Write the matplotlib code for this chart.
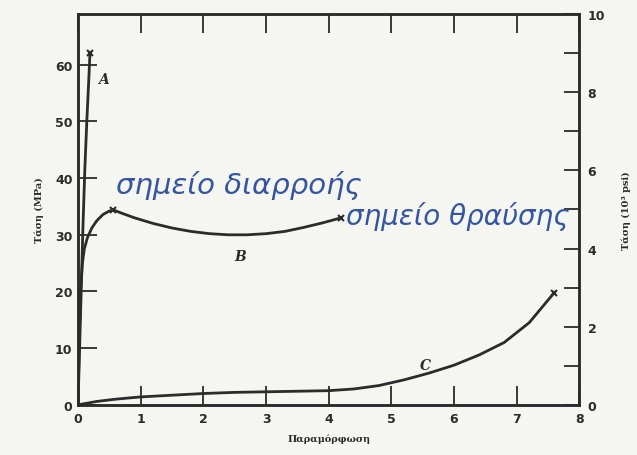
import matplotlib
matplotlib.use("Agg")
import matplotlib.pyplot as plt
from matplotlib.ticker import MultipleLocator

# Curve A (brittle)
strain_a = [0, 0.02, 0.05, 0.08, 0.11, 0.14, 0.17, 0.19]
stress_a = [0, 8, 20, 32, 42, 50, 57, 62]
# Curve B (plastic)
strain_b = [0, 0.02, 0.04, 0.07, 0.1, 0.15, 0.22, 0.3, 0.4, 0.5, 0.56, 0.7, 0.9,
            1.2, 1.5, 1.8, 2.1, 2.4, 2.7, 3.0, 3.3, 3.6, 3.9, 4.2]
stress_b = [0, 12, 20, 25, 27.5, 29.5, 31.2, 32.5, 33.6, 34.2, 34.4, 33.8, 33.0,
            32.0, 31.2, 30.6, 30.2, 30.0, 30.0, 30.2, 30.6, 31.3, 32.1, 33.0]
# Curve C (elastomer)
strain_c = [0, 0.3, 0.6, 1, 1.5, 2, 2.5, 3, 3.5, 4, 4.4, 4.8, 5.2, 5.6, 6.0, 6.4, 6.8, 7.2, 7.6]
stress_c = [0, 0.6, 1.0, 1.4, 1.7, 2.0, 2.2, 2.3, 2.4, 2.5, 2.8, 3.4, 4.4, 5.6, 7.0, 8.8, 11.0, 14.5, 19.8]

x_ticks = [0, 1, 2, 3, 4, 5, 6, 7, 8]
y_ticks_mpa = [0, 10, 20, 30, 40, 50, 60]
y_ticks_psi = [0, 2, 4, 6, 8, 10]

ink = "#2b2b2b"
bg = "#f5f5f1"
pen = "#34559f"

fig = plt.figure(figsize=(6.37, 4.56), dpi=100, facecolor=bg)
ax = fig.add_axes([0.1225, 0.11, 0.787, 0.857], facecolor=bg)

ax.plot(strain_a, stress_a, color=ink, lw=2.0)
ax.plot(strain_b, stress_b, color=ink, lw=2.0)
ax.plot(strain_c, stress_c, color=ink, lw=2.0)
ax.plot([strain_a[-1]], [stress_a[-1]], marker="x", color=ink, ms=4, mew=1.5)
ax.plot([strain_b[10]], [stress_b[10]], marker="x", color=ink, ms=4, mew=1.5)
ax.plot([strain_b[-1]], [stress_b[-1]], marker="x", color=ink, ms=4, mew=1.5)
ax.plot([strain_c[-1]], [stress_c[-1]], marker="x", color=ink, ms=4, mew=1.5)

ax.text(0.32, 57.5, "A", fontsize=10, style="italic", weight="bold", family="DejaVu Serif", color=ink, va="center")
ax.text(2.5, 26.3, "B", fontsize=10, style="italic", weight="bold", family="DejaVu Serif", color=ink, va="center")
ax.text(5.45, 7.0, "C", fontsize=10, style="italic", weight="bold", family="DejaVu Serif", color=ink, va="center")

ax.text(0.6, 38.8, "σημείο διαρροής", fontsize=21, style="italic", weight="light",
        color=pen, va="center", clip_on=False)
ax.text(4.27, 33.4, "σημείο θραύσης", fontsize=20, style="italic", weight="light",
        color=pen, va="center", clip_on=False)

ymax = 68.95
ax.set_xlim(0, 8)
ax.set_ylim(0, ymax)
ax.set_xticks(x_ticks)
ax.set_yticks(y_ticks_mpa)
ax.tick_params(axis="x", direction="in", length=14, width=1.3, colors=ink, labelsize=9,
               top=True, pad=5)
ax.tick_params(axis="y", direction="in", length=14, width=1.3, colors=ink, labelsize=9, pad=4)
for lab in ax.get_xticklabels() + ax.get_yticklabels():
    lab.set_fontweight("bold")
for s in ax.spines.values():
    s.set_color(ink)
    s.set_linewidth(1.8)

ax2 = ax.twinx()
ax2.set_ylim(0, 10)
ax2.set_yticks(y_ticks_psi)
ax2.yaxis.set_minor_locator(MultipleLocator(1))
ax2.tick_params(axis="y", which="both", direction="in", length=11, width=1.3, colors=ink, labelsize=9, pad=6)
for lab in ax2.get_yticklabels():
    lab.set_fontweight("bold")
for s in ax2.spines.values():
    s.set_color(ink)
    s.set_linewidth(1.8)
ax2.set_zorder(ax.get_zorder() - 1)
ax.patch.set_visible(False)
ax2.patch.set_facecolor(bg)

ax.set_ylabel("Τάση (MPa)", fontsize=7, weight="bold", family="DejaVu Serif", color=ink, labelpad=8)
ax2.set_ylabel("Τάση (10³ psi)", fontsize=7, weight="bold", family="DejaVu Serif", color=ink, labelpad=12)
ax.set_xlabel("Παραμόρφωση", fontsize=7, weight="bold", family="DejaVu Serif", color=ink, labelpad=6)

fig.savefig("out.png", dpi=100, facecolor=bg)
